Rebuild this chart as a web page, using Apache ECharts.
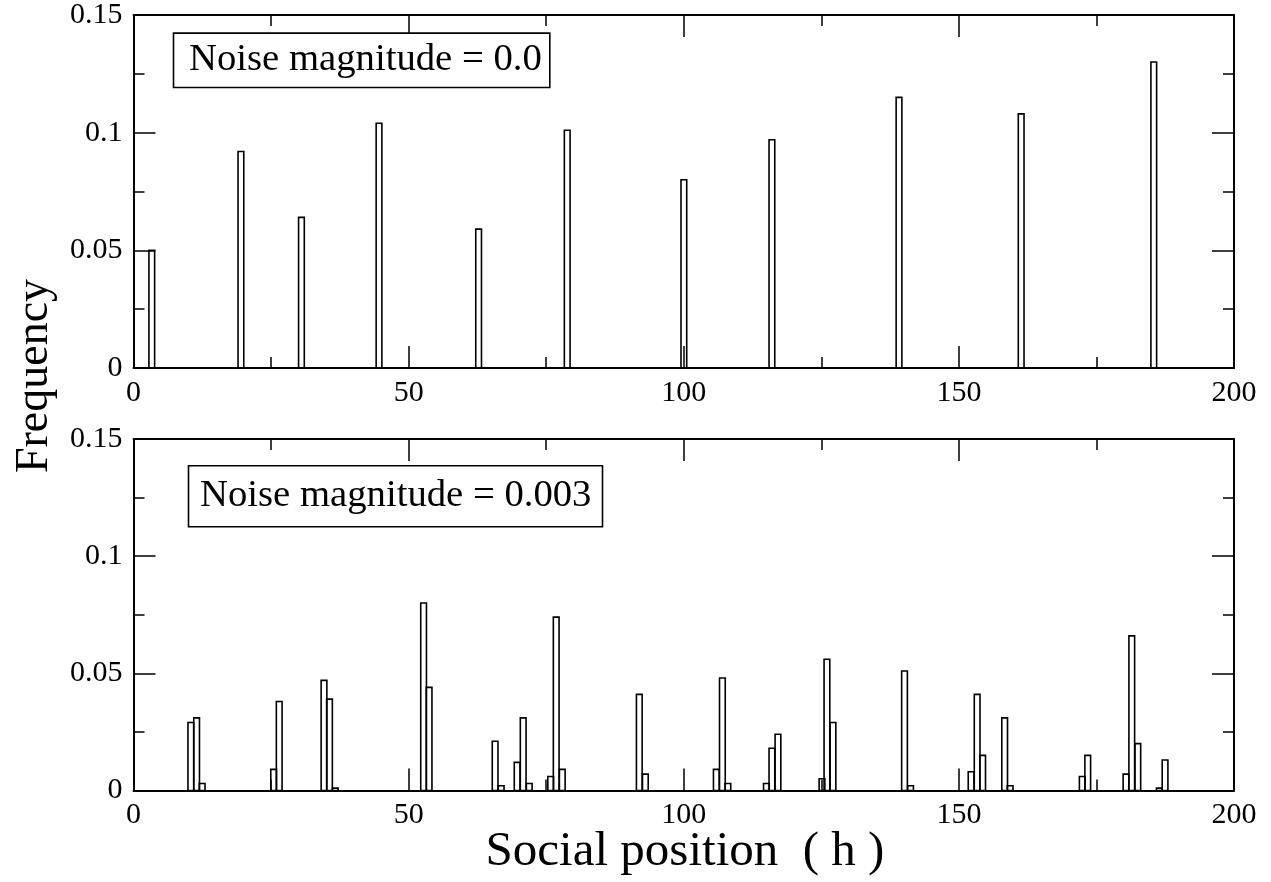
<!DOCTYPE html>
<html>
<head>
<meta charset="utf-8">
<script src="https://cdn.jsdelivr.net/npm/echarts@6/dist/echarts.min.js"></script>
<style>
  html, body { margin: 0; padding: 0; background: #fff; }
  #chart { width: 1271px; height: 882px; }
</style>
</head>
<body>
<div id="chart"></div>
<script>
// ---- Data ----
const BIN_W = 1.04;               // histogram bin width (h units)
const xTickValues = [0, 50, 100, 150, 200];
const yTickValues = [0, 0.05, 0.1, 0.15];

// Top panel: noise magnitude = 0.0
const topBinStart = [2.8, 19.0, 30.0, 44.1, 62.2, 78.3, 99.5, 115.5, 138.6, 160.8, 184.9];
const topFreq     = [0.050, 0.092, 0.064, 0.104, 0.059, 0.101, 0.080, 0.097, 0.115, 0.108, 0.130];

// Bottom panel: noise magnitude = 0.003
const bottomBinStart = [
  9.9, 10.95, 11.96,
  24.95, 25.96,
  34.1, 35.1, 36.15,
  52.2, 53.2,
  65.2, 66.3,
  69.2, 70.3, 71.4,
  75.3, 76.3, 77.4,
  91.4, 92.5,
  105.4, 106.5, 107.5,
  114.5, 115.5, 116.6,
  124.6, 125.5, 126.6,
  139.6, 140.7,
  151.7, 152.8, 153.8,
  157.8, 158.8,
  171.9, 172.9,
  179.85, 180.9, 182.0,
  185.9, 186.95
];
const bottomFreq = [
  0.029, 0.031, 0.003,
  0.009, 0.038,
  0.047, 0.039, 0.001,
  0.080, 0.044,
  0.021, 0.002,
  0.012, 0.031, 0.003,
  0.006, 0.074, 0.009,
  0.041, 0.007,
  0.009, 0.048, 0.003,
  0.003, 0.018, 0.024,
  0.005, 0.056, 0.029,
  0.051, 0.002,
  0.008, 0.041, 0.015,
  0.031, 0.002,
  0.006, 0.015,
  0.007, 0.066, 0.020,
  0.001, 0.013
];

const panelLabels = ['Noise magnitude = 0.0', 'Noise magnitude = 0.003'];
const xTitle = 'Social position  ( h )';
const yTitle = 'Frequency';

// ---- Chart ----
const chart = echarts.init(document.getElementById('chart'), null, { renderer: 'canvas' });
const FONT = '"Liberation Serif", "Times New Roman", serif';

const grids = [
  { left: 133.5, top: 15, width: 1100.5, height: 353 },
  { left: 133.5, top: 439, width: 1100.5, height: 351.5 }
];

function tickCfg(show) {
  return {
    axisLine: { show: true, onZero: false, lineStyle: { color: '#000', width: 2 } },
    axisTick: { show: true, inside: true, length: 22, lineStyle: { color: '#000', width: 1.5 } },
    minorTick: { show: true, splitNumber: 2, length: 11, lineStyle: { color: '#000', width: 1.5 } },
    splitLine: { show: false },
    minorSplitLine: { show: false },
    axisLabel: {
      show: show, color: '#000', fontFamily: FONT, fontSize: 30, margin: 10,
      formatter: v => String(+v.toFixed(3))
    }
  };
}

const xAxes = [], yAxes = [];
[0, 1].forEach(g => {
  xAxes.push(Object.assign({ type: 'value', gridIndex: g, position: 'bottom', min: xTickValues[0], max: xTickValues[xTickValues.length - 1], interval: xTickValues[1] - xTickValues[0] }, tickCfg(true)));
  xAxes.push(Object.assign({ type: 'value', gridIndex: g, position: 'top', min: xTickValues[0], max: xTickValues[xTickValues.length - 1], interval: xTickValues[1] - xTickValues[0] }, tickCfg(false)));
  yAxes.push(Object.assign({ type: 'value', gridIndex: g, position: 'left', min: yTickValues[0], max: yTickValues[yTickValues.length - 1], interval: yTickValues[1] - yTickValues[0] }, tickCfg(true)));
  yAxes.push(Object.assign({ type: 'value', gridIndex: g, position: 'right', min: yTickValues[0], max: yTickValues[yTickValues.length - 1], interval: yTickValues[1] - yTickValues[0] }, tickCfg(false)));
});
yAxes[0].axisLabel.margin = 11;
yAxes[2].axisLabel.margin = 11;

function renderBar(params, api) {
  const x0 = api.value(0), h = api.value(1);
  const p0 = api.coord([x0, h]);
  const p1 = api.coord([x0 + BIN_W, 0]);
  return {
    type: 'rect',
    shape: { x: p0[0], y: p0[1], width: p1[0] - p0[0], height: p1[1] - p0[1] },
    style: { fill: 'none', stroke: '#000', lineWidth: 1.6 }
  };
}

const series = [
  {
    type: 'custom', xAxisIndex: 0, yAxisIndex: 0, renderItem: renderBar,
    encode: { x: 0, y: 1 }, clip: false,
    data: topBinStart.map((x, i) => [x, topFreq[i]])
  },
  {
    type: 'custom', xAxisIndex: 2, yAxisIndex: 2, renderItem: renderBar,
    encode: { x: 0, y: 1 }, clip: false,
    data: bottomBinStart.map((x, i) => [x, bottomFreq[i]])
  }
];

const boxes = [
  { x: 172.7, y: 32.3, w: 376.3, h: 54.4, tx: 189, ty: 60 },
  { x: 187.7, y: 465, w: 414, h: 61, tx: 200, ty: 496 }
];

const graphic = [];
boxes.forEach((b, i) => {
  graphic.push({
    type: 'rect', left: b.x, top: b.y, z: 100,
    shape: { width: b.w, height: b.h },
    style: { fill: '#fff', stroke: '#000', lineWidth: 1.6 }
  });
  graphic.push({
    type: 'text', x: b.tx, y: b.ty, z: 101,
    style: { text: panelLabels[i], font: '38.7px ' + FONT, fill: '#000', textAlign: 'left', textVerticalAlign: 'middle' }
  });
});
graphic.push({
  type: 'text', x: 685, y: 852, z: 101,
  style: { text: xTitle, font: '49px ' + FONT, fill: '#000', textAlign: 'center', textVerticalAlign: 'middle' }
});
graphic.push({
  type: 'text', x: 35, y: 376, rotation: Math.PI / 2, z: 101,
  style: { text: yTitle, font: '46px ' + FONT, fill: '#000', textAlign: 'center', textVerticalAlign: 'middle' }
});

chart.setOption({
  animation: false,
  backgroundColor: '#fff',
  grid: grids,
  xAxis: xAxes,
  yAxis: yAxes,
  series: series,
  graphic: graphic
});
</script>
</body>
</html>
